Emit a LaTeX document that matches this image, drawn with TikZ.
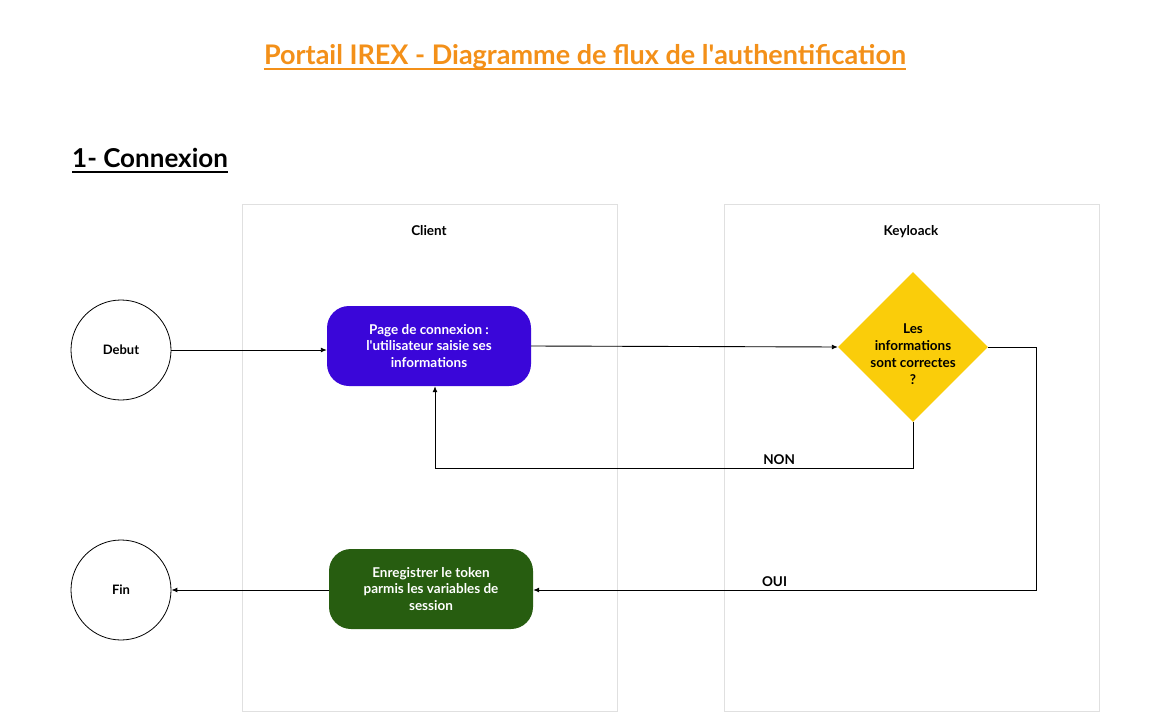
\documentclass[tikz,border=0pt]{standalone}
\usepackage{fontspec}
\setmainfont{Lato}
\usepackage{tikz}
\usetikzlibrary{positioning, calc, shapes.geometric, arrows.meta}
\definecolor{titleorange}{HTML}{F39019}
\definecolor{pageblue}{HTML}{3A06D9}
\definecolor{tokengreen}{HTML}{275D10}
\definecolor{checkyellow}{HTML}{FACD0A}
\tikzstyle{Arrow} = [
%Flow arrow:
line width = 0.9pt, -{Latex[length=6pt, width=5pt]}
]

\begin{document}
\begin{tikzpicture}[x = 1pt, y = -1pt,
                  lane/.style = {rectangle, draw = black!12, line width = 0.6pt, minimum width = 375pt, minimum height = 507pt},
                  endpoint/.style = {circle, draw, line width = 0.8pt, minimum size = 100pt, font = \fontsize{13}{16}\selectfont\bfseries},
                  process/.style = {rectangle, rounded corners = 22pt, align = center, text = white, minimum width = 204pt, minimum height = 80pt, font = \fontsize{13.5}{16.8}\selectfont\bfseries},
                  decision/.style = {diamond, fill = checkyellow, inner sep = 0pt, minimum width = 150pt, minimum height = 150pt, aspect = 1},
                  caption/.style = {font = \fontsize{13.5}{16.8}\selectfont\bfseries},
              ]
              \useasboundingbox (0,0) rectangle (1171,720);
              % titles
              \node[inner sep = 0pt, text = titleorange, font = \fontsize{27}{32}\selectfont\bfseries](Title) at (585,57){Portail IREX - Diagramme de flux de l\textquotesingle authentification};
              \node[inner sep = 0pt, anchor = west, font = \fontsize{26}{30}\selectfont\bfseries](Section) at (72,158){1- Connexion};
              \draw[titleorange, line width = 2pt]([yshift = -4pt]Title.base west)--([yshift = -4pt]Title.base east);
              \draw[line width = 2pt]([yshift = -4pt]Section.base west)--([yshift = -4pt]Section.base east);

              % swimlanes
              \node[lane](ClientLane) at (429.5,457.5){};
              \node[lane](KeyLane) at (911.5,457.5){};
              \node[caption](ClientTitle) at (429,231){Client};
              \node[caption](KeyTitle) at (911,232){Keyloack};

              % steps
              \node[endpoint](Debut) at (121,350){Debut};
              \node[endpoint](Fin) at (121,590){Fin};
              \node[process, fill = pageblue](Page) at (429,346){Page de connexion :\\l\textquotesingle utilisateur saisie ses\\informations};
              \node[process, fill = tokengreen](Token) at (431,589){Enregistrer le token\\parmis les variables de\\session};
              \node[decision, label = {[caption, align = center, yshift = -7pt]center:Les\\informations\\sont correctes\\?}](Check) at (913,347){};
              \coordinate(NonCorner) at (913,468);
              \coordinate(OuiCorner) at (1036,590);

              \draw[Arrow](Debut.east)--(Page.west |- Debut.east);
              \draw[Arrow](Page.east)--(Check.west);
              \draw[Arrow](Check.south)--(NonCorner)-|node[pos = 0.14, above] {\fontsize{13.5}{16}\selectfont\bfseries NON}(Page.south -| 435,0);
              \draw[Arrow](Check.east)-|(OuiCorner)--node[pos = 0.52, above] {\fontsize{13.5}{16}\selectfont\bfseries OUI}(Token.east |- OuiCorner);
              \draw[Arrow](Token.west |- Fin.east)--(Fin.east);
          \end{tikzpicture}
\end{document}
